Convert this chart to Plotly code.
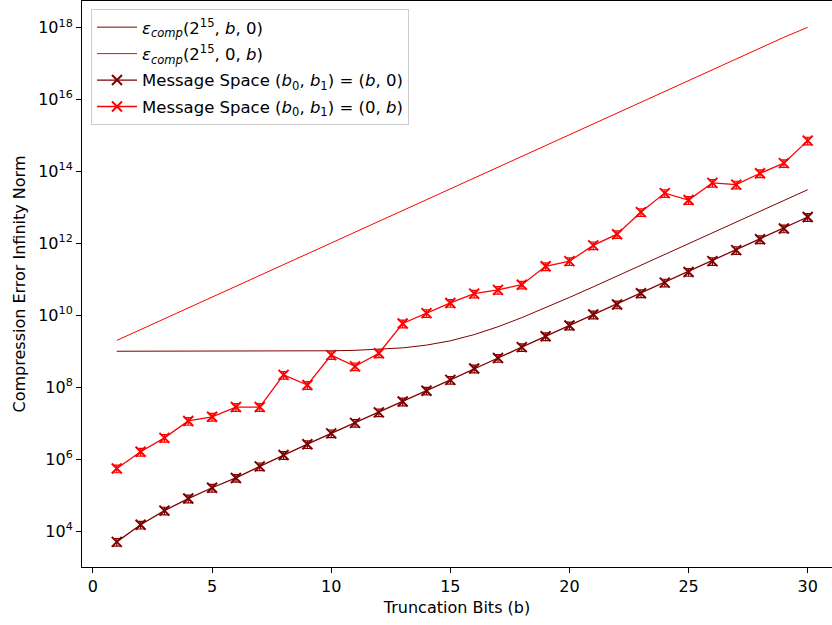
import plotly.graph_objects as go

b_vals = list(range(1, 31))

# Theoretical bound eps_comp(2^15, b, 0)
bound_b0 = [1.00e9, 1.00e9, 1.00e9, 1.00e9, 1.00e9, 1.00e9, 1.00e9, 1.01e9, 1.01e9, 1.03e9,
            1.06e9, 1.12e9, 1.24e9, 1.48e9, 1.95e9, 2.90e9, 4.80e9, 8.60e9, 1.62e10, 3.14e10,
            6.18e10, 1.226e11, 2.44e11, 4.88e11, 9.74e11, 1.946e12, 3.89e12, 7.78e12, 1.557e13, 3.11e13]

# Theoretical bound eps_comp(2^15, 0, b)
bound_0b = [2.0e9, 4.0e9, 8.0e9, 1.6e10, 3.2e10, 6.4e10, 1.28e11, 2.56e11, 5.12e11, 1.02e12,
            2.05e12, 4.1e12, 8.19e12, 1.64e13, 3.28e13, 6.55e13, 1.31e14, 2.62e14, 5.24e14, 1.05e15,
            2.1e15, 4.19e15, 8.39e15, 1.68e16, 3.36e16, 6.71e16, 1.34e17, 2.68e17, 5.37e17, 1.02e18]

# Measured: message space (b0, b1) = (b, 0)
meas_b0 = [5.0e3, 1.5e4, 3.7e4, 8.0e4, 1.6e5, 3.0e5, 6.3e5, 1.3e6, 2.6e6, 5.2e6,
           1.02e7, 2.0e7, 4.0e7, 8.0e7, 1.6e8, 3.3e8, 6.5e8, 1.3e9, 2.6e9, 5.2e9,
           1.05e10, 2.0e10, 4.1e10, 8.1e10, 1.6e11, 3.2e11, 6.5e11, 1.3e12, 2.6e12, 5.4e12]

# Measured: message space (b0, b1) = (0, b)
meas_0b = [5.5e5, 1.6e6, 3.9e6, 1.15e7, 1.5e7, 2.8e7, 2.8e7, 2.2e8, 1.15e8, 7.8e8,
           3.8e8, 8.8e8, 5.9e9, 1.15e10, 2.2e10, 4.0e10, 5.1e10, 7.1e10, 2.3e11, 3.2e11,
           8.8e11, 1.8e12, 7.4e12, 2.5e13, 1.6e13, 4.8e13, 4.3e13, 8.9e13, 1.7e14, 7.2e14]

y_tick_vals = [1e4, 1e6, 1e8, 1e10, 1e12, 1e14, 1e16, 1e18]
y_tick_text = ["10<sup>4</sup>", "10<sup>6</sup>", "10<sup>8</sup>", "10<sup>10</sup>",
               "10<sup>12</sup>", "10<sup>14</sup>", "10<sup>16</sup>", "10<sup>18</sup>"]
x_tick_vals = [0, 5, 10, 15, 20, 25, 30]

DARK = "#800000"
RED = "#ff0000"
FONT = "DejaVu Sans"

fig = go.Figure()
fig.add_trace(go.Scatter(
    x=b_vals, y=bound_b0, mode="lines", line=dict(color=DARK, width=1),
    name="<i>ε<sub>comp</sub></i>(2<sup>15</sup>, <i>b</i>, 0)", legendgroup="a"))
fig.add_trace(go.Scatter(
    x=b_vals, y=bound_0b, mode="lines", line=dict(color=RED, width=1),
    name="<i>ε<sub>comp</sub></i>(2<sup>15</sup>, 0, <i>b</i>)", legendgroup="b"))
fig.add_trace(go.Scatter(
    x=b_vals, y=meas_b0, mode="lines+markers", line=dict(color=DARK, width=1.3),
    marker=dict(symbol="x-thin", size=10, line=dict(color=DARK, width=2)),
    error_y=dict(type="percent", value=24, color=DARK, thickness=1.2, width=4),
    name="Message Space (<i>b</i><sub>0</sub>, <i>b</i><sub>1</sub>) = (<i>b</i>, 0)", legendgroup="c"))
fig.add_trace(go.Scatter(
    x=b_vals, y=meas_0b, mode="lines+markers", line=dict(color=RED, width=1.3),
    marker=dict(symbol="x-thin", size=10, line=dict(color=RED, width=2)),
    error_y=dict(type="percent", value=24, color=RED, thickness=1.2, width=4),
    name="Message Space (<i>b</i><sub>0</sub>, <i>b</i><sub>1</sub>) = (0, <i>b</i>)", legendgroup="d"))

fig.update_layout(
    width=832, height=625,
    margin=dict(l=82, r=0, t=1, b=58),
    paper_bgcolor="white", plot_bgcolor="white",
    font=dict(family=FONT, size=16, color="black"),
    showlegend=True,
    legend=dict(
        x=0.012, y=0.986, xanchor="left", yanchor="top",
        bgcolor="rgba(255,255,255,0.8)", bordercolor="#cccccc", borderwidth=1,
        font=dict(family=FONT, size=16.5), tracegroupgap=2, itemwidth=40,
    ),
    xaxis=dict(
        range=[-0.46, 31.02], tickvals=x_tick_vals, ticks="outside", ticklen=5, tickwidth=1,
        tickcolor="black", showline=True, linecolor="black", linewidth=1, mirror=True,
        showgrid=False, zeroline=False,
        title=dict(text="Truncation Bits (b)", font=dict(family=FONT, size=16), standoff=6),
    ),
    yaxis=dict(
        type="log", range=[3.0, 18.74], tickvals=y_tick_vals, ticktext=y_tick_text,
        ticks="outside", ticklen=5, tickwidth=1, tickcolor="black",
        showline=True, linecolor="black", linewidth=1, showgrid=False, zeroline=False,
        title=dict(text="Compression Error Infinity Norm", font=dict(family=FONT, size=16), standoff=8),
    ),
)

fig.write_html("out.html")
